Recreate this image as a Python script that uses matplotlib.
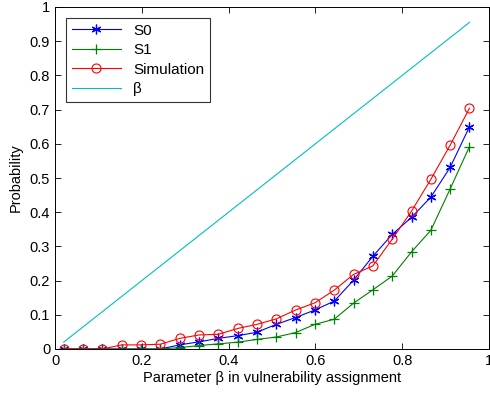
import matplotlib
matplotlib.use("Agg")
import matplotlib.pyplot as plt
import numpy as np

plt.rcParams['font.family'] = ['Liberation Sans', 'DejaVu Sans']

beta = np.linspace(0.02, 0.955, 22)

s0 = [0, 0, 0, 0, 0, 0, 0.012, 0.021, 0.031, 0.039, 0.049,
      0.072, 0.092, 0.114, 0.140, 0.201, 0.271, 0.335, 0.385, 0.444, 0.531, 0.650]
s1 = [0, 0, 0, 0, 0, 0, 0.004, 0.010, 0.015, 0.020, 0.028,
      0.035, 0.048, 0.072, 0.087, 0.134, 0.173, 0.213, 0.284, 0.347, 0.468, 0.592]
sim = [0, 0, 0, 0.012, 0.012, 0.014, 0.031, 0.041, 0.043, 0.060, 0.072,
       0.088, 0.114, 0.135, 0.172, 0.218, 0.243, 0.321, 0.403, 0.496, 0.596, 0.704]

fig = plt.figure(figsize=(4.9, 3.96), dpi=100)
ax = fig.add_axes([55 / 490, 1 - 349 / 396, 434 / 490, 342 / 396])

# MATLAB-style asterisk marker
ax.plot(beta, s0, color='blue', marker=(6, 2, 0), markersize=7, lw=0.8, mew=0.9, label='S0')
ax.plot(beta, s1, color='green', marker='+', markersize=7, lw=0.8, mew=0.9, label='S1')
ax.plot(beta, sim, color='red', marker='o', markersize=6.5, mfc='none', lw=0.8, mew=0.8,
        label='Simulation')
ax.plot(beta, beta, color='c', lw=0.8, label='\u03b2')

ax.set_xlim(0, 1)
ax.set_ylim(0, 1)
ax.set_xticks(np.arange(0, 1.01, 0.2))
ax.set_xticklabels(['0', '0.2', '0.4', '0.6', '0.8', '1'])
ax.set_yticks(np.arange(0, 1.01, 0.1))
ax.set_yticklabels(['0', '0.1', '0.2', '0.3', '0.4', '0.5', '0.6', '0.7', '0.8', '0.9', '1'])
ax.tick_params(direction='in', top=True, right=True, labelsize=10.5, length=4, width=0.6)
for sp in ax.spines.values():
    sp.set_linewidth(0.7)

ax.set_xlabel('Parameter \u03b2 in vulnerability assignment', fontsize=10.5, labelpad=2)
ax.set_ylabel('Probability', fontsize=10.5, labelpad=5)

leg = ax.legend(loc='upper left', fontsize=11, fancybox=False, edgecolor='black',
                handlelength=3.2, borderaxespad=0.7, labelspacing=0.35)
leg.get_frame().set_linewidth(0.8)

fig.savefig('out.png', dpi=100)
